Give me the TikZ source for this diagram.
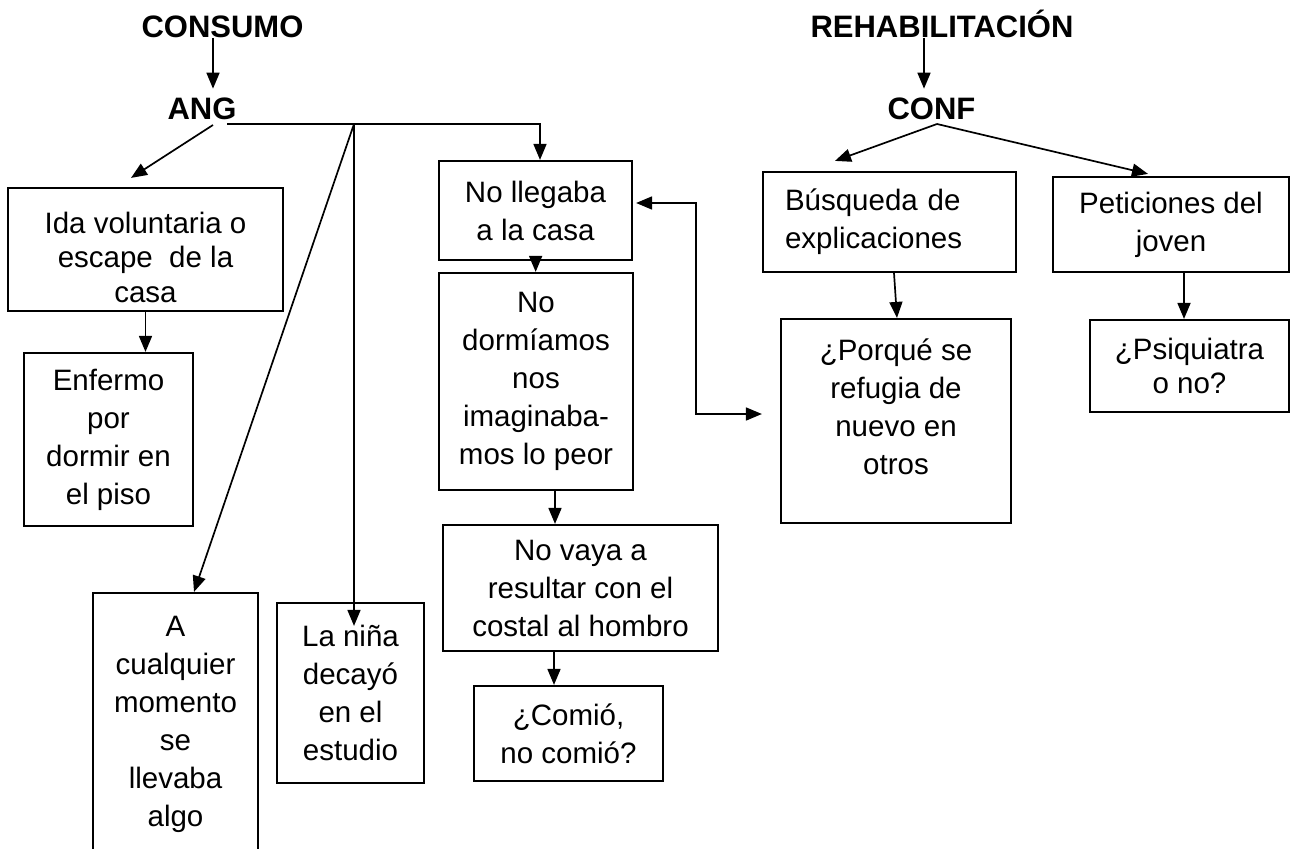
\documentclass[tikz,border=0pt]{standalone}
\usepackage{fontspec}
\setmainfont{Liberation Sans}
\usetikzlibrary{arrows.meta}
\newcommand{\letraCaja}{\fontsize{29.5}{38}\selectfont}
\newcommand{\letraJunta}{\fontsize{29.5}{34.5}\selectfont}
\newcommand{\letraTitulo}{\fontsize{31}{38}\selectfont\bfseries}
\tikzset{
  caja/.style = {
    shape = rectangle,
    draw = black,
    line width = 2.2pt,
    align = center,
    inner sep = 0pt,
    font = \letraCaja,
  }
}
\tikzset{
  titulo/.style = {
    inner sep = 0pt,
    anchor = base,
    font = \letraTitulo,
  }
}
\tikzset{
  flecha/.style = {
    draw = black, line width = 1.7pt, -{Triangle[length = 16pt, width = 13pt]},
  },
  flechadoble/.style = {
    draw = black, line width = 1.7pt,
    {Triangle[length = 16pt, width = 13pt]}-{Triangle[length = 16pt, width = 13pt]},
  }
}

\begin{document}
\begin{tikzpicture}[x = 1pt, y = -1pt]
        \useasboundingbox (0, 0) rectangle (1292, 848);
        \clip (0, 0) rectangle (1292, 848);
        % titulos
        \node[titulo](consumo) at (222.5, 38){CONSUMO};
        \node[titulo](ang) at (202, 120){ANG};
        \node[titulo](rehab) at (942, 38){REHABILITACIÓN};
        \node[titulo](conf) at (931.5, 120){CONF};
        % lado del consumo
        \node[caja, font = \letraJunta, minimum width = 275pt, minimum height = 123pt](ida) at (145.5, 249.5){\rule{0pt}{37pt}Ida voluntaria o\\escape\ \ de la\\casa};
        \node[caja, minimum width = 169pt, minimum height = 173pt](enfermo) at (108.5, 439.5){Enfermo\\por\\dormir en\\el piso};
        \node[caja, minimum width = 165pt, minimum height = 262pt](cualquier) at (175.5, 724){A\\cualquier\\momento\\se\\llevaba\\algo};
        \node[caja, minimum width = 147pt, minimum height = 180pt](nina) at (350.5, 693){La niña\\decayó\\en el\\estudio};
        \node[caja, minimum width = 193pt, minimum height = 99pt](llegaba) at (535.5, 210.5){No llegaba\\a la casa};
        \node[caja, minimum width = 194pt, minimum height = 217pt](dormiamos) at (536, 381.5){No\\dormíamos\\nos\\imaginaba-\\mos lo peor};
        \node[caja, minimum width = 275pt, minimum height = 126pt](vaya) at (580.5, 588){No vaya a\\resultar con el\\costal al hombro};
        \node[caja, minimum width = 189pt, minimum height = 95pt](comio) at (568.5, 733.5){¿Comió,\\no comió?};
        % lado de la rehabilitacion
        \node[caja, align = left, text width = 209pt, minimum width = 253pt, minimum height = 100pt](busqueda) at (889.5, 222){Búsqueda de\\explicaciones};
        \node[caja, minimum width = 236pt, minimum height = 95pt](peticiones) at (1171, 224.5){Peticiones del\\joven};
        \node[caja, minimum width = 230pt, minimum height = 204pt](porque) at (896, 421){¿Porqué se\\refugia de\\nuevo en\\otros\\[-9pt]\mbox{}};
        \node[caja, font = \letraJunta, minimum width = 199pt, minimum height = 92pt](psiquiatra) at (1189.5, 366){¿Psiquiatra\\o no?};
        \coordinate (rama) at (354, 124);
        % conectores
        \draw[flecha]([xshift = -9.5pt]consumo.base) -- ([xshift = 11pt, yshift = 9.5pt]ang.north);
        \draw[flecha]([xshift = -18pt]rehab.base) -- ([xshift = -7.5pt, yshift = 9.5pt]conf.north);
        \draw[flecha]([xshift = 25pt, yshift = -4pt]ang.base) -| ([xshift = 4.5pt]llegaba.north);
        \draw[flecha]([xshift = 11pt, yshift = -5pt]ang.base) -- ([xshift = -14.5pt, yshift = 9pt]ida.north);
        \draw[flecha](rama) -- ([xshift = 18.5pt]cualquier.north);
        \draw[flecha](rama) -- ([xshift = 3.5pt, yshift = -24pt]nina.north);
        \draw[flecha](ida.south) -- (ida.south |- enfermo.north);
        \draw[flecha](llegaba) -- (dormiamos);
        \draw[flecha]([xshift = 19pt]dormiamos.south) -- ([xshift = 19pt]dormiamos.south |- vaya.north);
        \draw[flecha]([xshift = -26.5pt]vaya.south) -- ([xshift = -26.5pt]vaya.south |- comio.north);
        \draw[flechadoble]([xshift = 3pt, yshift = 7.5pt]llegaba.east) -- ++(60, 0) |- ([xshift = -18pt, yshift = 7pt]porque.west);
        \draw[flecha]([xshift = 5.5pt, yshift = -4pt]conf.base) -- ([xshift = -54.5pt, yshift = 10pt]busqueda.north);
        \draw[flecha]([xshift = 5.5pt, yshift = -4pt]conf.base) -- ([xshift = -23pt, yshift = 2pt]peticiones.north);
        \draw[flecha]([xshift = 4.5pt]busqueda.south) -- ([xshift = 1pt]porque.north);
        \draw[flecha]([xshift = 13pt]peticiones.south) -- ([xshift = 13pt]peticiones.south |- psiquiatra.north);
    \end{tikzpicture}
\end{document}
